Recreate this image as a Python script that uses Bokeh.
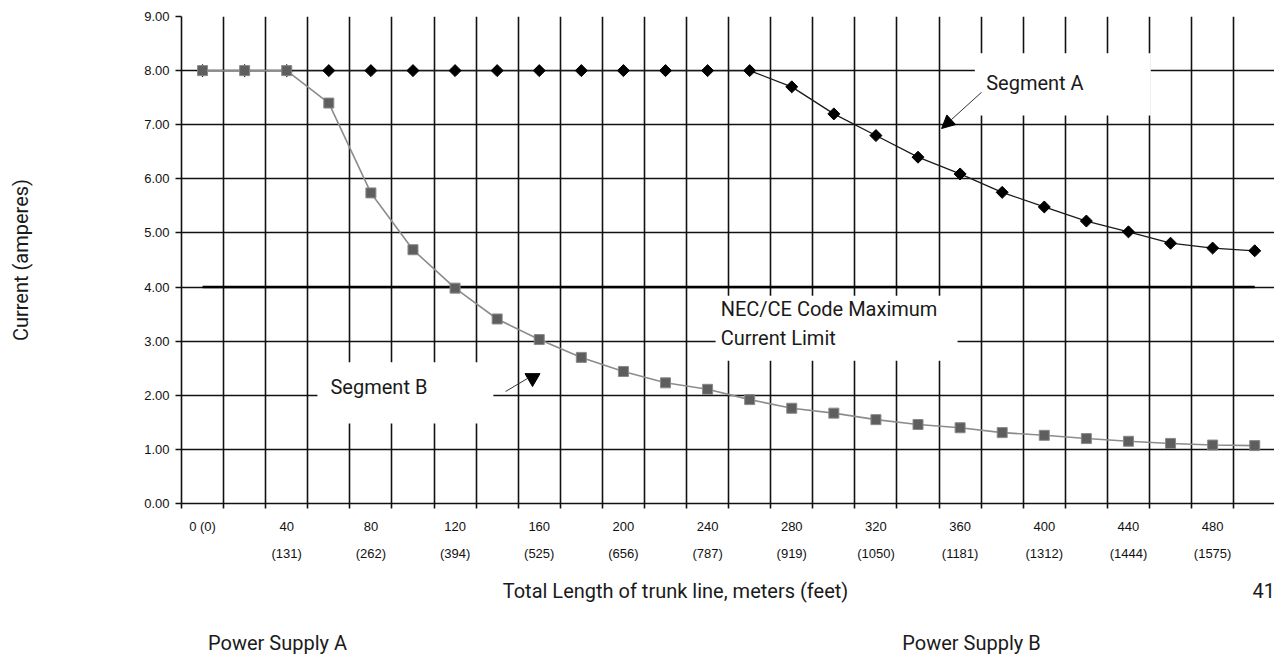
from bokeh.plotting import figure
from bokeh.layouts import column
from bokeh.models import (Range1d, FixedTicker, LinearAxis, Label, BoxAnnotation,
                          Arrow, NormalHead, ColumnDataSource)
from bokeh.embed import file_html
from bokeh.resources import INLINE

# ---- data ----
length_m = [0, 20, 40, 60, 80, 100, 120, 140, 160, 180, 200, 220, 240,
            260, 280, 300, 320, 340, 360, 380, 400, 420, 440, 460, 480, 500]
segment_a = [8.00, 8.00, 8.00, 8.00, 8.00, 8.00, 8.00, 8.00, 8.00, 8.00, 8.00, 8.00, 8.00,
             8.00, 7.70, 7.20, 6.80, 6.40, 6.09, 5.75, 5.48, 5.22, 5.02, 4.81, 4.72, 4.67]
segment_b = [8.00, 8.00, 8.00, 7.40, 5.74, 4.69, 3.98, 3.41, 3.03, 2.70, 2.44, 2.23, 2.11,
             1.92, 1.76, 1.67, 1.55, 1.46, 1.40, 1.31, 1.26, 1.20, 1.15, 1.11, 1.08, 1.07]
nec_limit = [4.00, 4.00, 4.00, 4.00, 4.00, 4.00, 4.00, 4.00, 4.00, 4.00, 4.00, 4.00, 4.00,
             4.00, 4.00, 4.00, 4.00, 4.00, 4.00, 4.00, 4.00, 4.00, 4.00, 4.00, 4.00, 4.00]
y_tick_labels = ["0.00", "1.00", "2.00", "3.00", "4.00", "5.00", "6.00", "7.00", "8.00", "9.00"]
meter_labels = ["0 (0)", "40", "80", "120", "160", "200", "240", "280", "320",
                "360", "400", "440", "480"]
feet_labels = ["", "(131)", "(262)", "(394)", "(525)", "(656)", "(787)", "(919)",
               "(1050)", "(1181)", "(1312)", "(1444)", "(1575)"]

x_idx = list(range(len(length_m)))
src = ColumnDataSource(dict(x=x_idx, a=segment_a, b=segment_b, nec=nec_limit))

ANN_FONT = "Roboto, 'Liberation Sans', sans-serif"
TICK_FONT = "'Liberation Sans', Arial, sans-serif"
ANN_SIZE = "20px"

p = figure(width=1274, height=570, x_range=Range1d(-0.5, 25.47), y_range=Range1d(0, 9),
           output_backend="svg", toolbar_location=None,
           min_border_left=181, min_border_right=0, min_border_top=16, min_border_bottom=67,
           outline_line_color=None, background_fill_color="white", border_fill_color="white")

# grid: vertical lines at category boundaries, horizontal at each ampere
boundaries = [i - 0.5 for i in range(len(length_m) + 1)]
p.xgrid.ticker = FixedTicker(ticks=boundaries)
p.ygrid.ticker = FixedTicker(ticks=list(range(len(y_tick_labels))))
for g in (p.xgrid, p.ygrid):
    g.grid_line_color = "#111111"
    g.grid_line_width = 1.6
    g.grid_line_alpha = 1.0

# y axis
p.yaxis.ticker = FixedTicker(ticks=list(range(len(y_tick_labels))))
p.yaxis.major_label_overrides = {i: t for i, t in enumerate(y_tick_labels)}
p.yaxis.minor_tick_line_color = None
p.yaxis.major_tick_out = 6
p.yaxis.major_tick_in = 0
p.yaxis.major_label_standoff = 6
p.yaxis.axis_line_color = "#111111"
p.yaxis.axis_line_width = 1.6
p.yaxis.major_tick_line_color = "#111111"
p.yaxis.major_tick_line_width = 1.6
p.yaxis.major_label_text_font = TICK_FONT
p.yaxis.major_label_text_font_size = "13px"
p.yaxis.major_label_text_color = "#111111"
p.yaxis.axis_label = "Current (amperes)"
p.yaxis.axis_label_text_font = ANN_FONT
p.yaxis.axis_label_text_font_size = ANN_SIZE
p.yaxis.axis_label_text_font_style = "normal"
p.yaxis.axis_label_text_color = "#1a1a1a"
p.yaxis.axis_label_standoff = 108

# x axis 1: line + ticks at boundaries, no labels
p.xaxis.ticker = FixedTicker(ticks=boundaries)
p.xaxis.major_label_overrides = {b: "" for b in boundaries}
p.xaxis.major_label_text_font_size = "1px"
p.xaxis.major_label_standoff = 0
p.xaxis.minor_tick_line_color = None
p.xaxis.major_tick_out = 5
p.xaxis.major_tick_in = 0
p.xaxis.axis_line_color = "#111111"
p.xaxis.axis_line_width = 1.6
p.xaxis.major_tick_line_color = "#111111"
p.xaxis.major_tick_line_width = 1.6

label_pos = x_idx[::2][:len(meter_labels)]
ax_m = LinearAxis(ticker=FixedTicker(ticks=label_pos),
                  major_label_overrides={pos: t for pos, t in zip(label_pos, meter_labels)},
                  axis_line_color=None, major_tick_line_color=None, minor_tick_line_color=None,
                  major_label_standoff=4, major_label_text_font=TICK_FONT,
                  major_label_text_font_size="13px", major_label_text_color="#111111")
p.add_layout(ax_m, "below")
ax_ft = LinearAxis(ticker=FixedTicker(ticks=label_pos),
                   major_label_overrides={pos: t for pos, t in zip(label_pos, feet_labels)},
                   axis_line_color=None, major_tick_line_color=None, minor_tick_line_color=None,
                   major_label_standoff=3, major_label_text_font=TICK_FONT,
                   major_label_text_font_size="13px", major_label_text_color="#111111")
p.add_layout(ax_ft, "below")

# series
p.line("x", "nec", source=src, line_color="#000000", line_width=2.6)
p.line("x", "a", source=src, line_color="#1a1a1a", line_width=1.3)
p.scatter("x", "a", source=src, marker="square", angle=0.7854, size=8.5,
          fill_color="#000000", line_color="#000000")
p.line("x", "b", source=src, line_color="#8c8c8c", line_width=1.6)
p.scatter("x", "b", source=src, marker="square", size=10, fill_color="#5e5e5e",
          line_color="#8a8a8a", line_width=1)

# white text boxes (hide grid behind annotation text)
for l, r, t, b in [(18.35, 22.53, 8.32, 7.17), (12.19, 17.94, 3.84, 2.64), (2.73, 6.91, 2.61, 1.48)]:
    p.add_layout(BoxAnnotation(left=l, right=r, top=t, bottom=b, fill_color="white",
                               fill_alpha=1.0, line_color=None, level="overlay"))

def ann(fig, x, y, text, align="left"):
    fig.add_layout(Label(x=x, y=y, text=text, text_font=ANN_FONT, text_font_size=ANN_SIZE,
                         text_color="#1a1a1a", text_align=align, text_baseline="middle",
                         level="overlay"))

ann(p, 18.62, 7.78, "Segment A")
ann(p, 12.31, 3.60, "NEC/CE Code Maximum")
ann(p, 12.31, 3.06, "Current Limit")
ann(p, 3.04, 2.16, "Segment B")

# arrows
p.add_layout(Arrow(end=NormalHead(size=13, fill_color="black", line_color="black"),
                   x_start=18.51, y_start=7.60, x_end=17.56, y_end=6.93,
                   line_color="#333333", line_width=1, level="overlay"))
p.segment(x0=[7.20], y0=[2.07], x1=[7.72], y1=[2.31], line_color="#333333", line_width=1)
p.scatter(x=[7.84], y=[2.32], marker="inverted_triangle", size=15, fill_color="black",
          line_color="black")

# bottom strip with the remaining page texts (its frame is aligned with the chart's frame,
# so its x range is given in page pixels from 181 to 1274)
p2 = figure(width=1274, height=85, x_range=Range1d(181, 1274), y_range=Range1d(0, 85),
            output_backend="svg", toolbar_location=None,
            min_border=0, min_border_left=0, min_border_right=0, min_border_top=0,
            min_border_bottom=0, outline_line_color=None, background_fill_color="white",
            border_fill_color="white")
p2.axis.visible = False
p2.grid.visible = False
ann(p2, 675, 65, "Total Length of trunk line, meters (feet)", align="center")
ann(p2, 1252, 65, "41")
ann(p2, 277, 13, "Power Supply A", align="center")
ann(p2, 971, 13, "Power Supply B", align="center")

layout = column(p, p2, spacing=0)
open("out.html", "w").write(file_html(layout, INLINE))
